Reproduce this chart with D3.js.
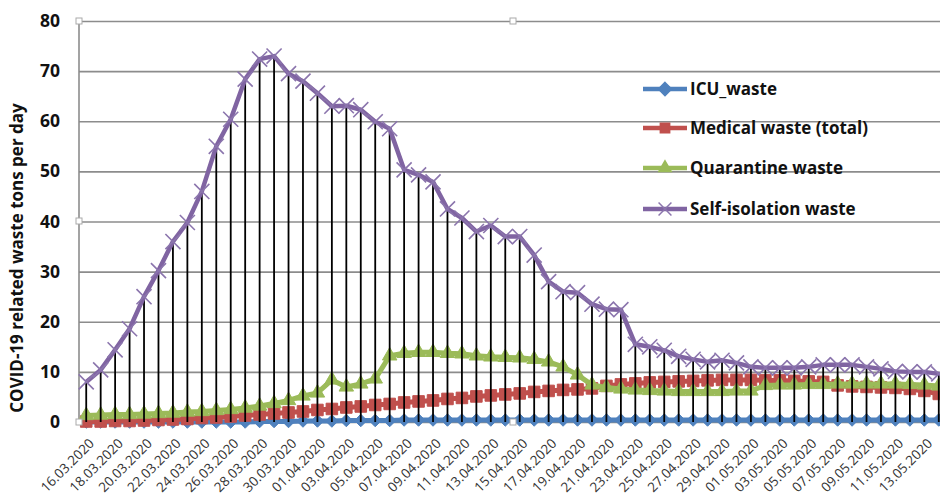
<!DOCTYPE html>
<html><head><meta charset="utf-8">
<script src="https://cdn.jsdelivr.net/npm/d3@7"></script>
<style>body{margin:0;background:#fff}svg{display:block}</style>
</head><body>
<svg id="c" width="940" height="497"></svg>
<script>
const dates = ["16.03.2020","17.03.2020","18.03.2020","19.03.2020","20.03.2020","21.03.2020","22.03.2020","23.03.2020","24.03.2020","25.03.2020",
"26.03.2020","27.03.2020","28.03.2020","29.03.2020","30.03.2020","31.03.2020","01.04.2020","02.04.2020","03.04.2020","04.04.2020",
"05.04.2020","06.04.2020","07.04.2020","08.04.2020","09.04.2020","10.04.2020","11.04.2020","12.04.2020","13.04.2020","14.04.2020",
"15.04.2020","16.04.2020","17.04.2020","18.04.2020","19.04.2020","20.04.2020","21.04.2020","22.04.2020","23.04.2020","24.04.2020",
"25.04.2020","26.04.2020","27.04.2020","28.04.2020","29.04.2020","30.04.2020","01.05.2020","02.05.2020","03.05.2020","04.05.2020",
"05.05.2020","06.05.2020","07.05.2020","08.05.2020","09.05.2020","10.05.2020","11.05.2020","12.05.2020","13.05.2020","14.05.2020"];

const icuWaste = [0,0,0,0,0,0,0,0,0,0, 0,0,0.1,0.1,0.1,0.2,0.2,0.2,0.3,0.3,
0.3,0.3,0.4,0.4,0.4,0.4,0.4,0.4,0.4,0.4, 0.4,0.4,0.4,0.4,0.4,0.4,0.4,0.4,0.4,0.4,
0.4,0.4,0.4,0.4,0.4,0.4,0.4,0.4,0.4,0.4, 0.4,0.4,0.4,0.4,0.4,0.4,0.4,0.4,0.4,0.4];

const medicalWaste = [0.1,0.1,0.2,0.2,0.3,0.4,0.5,0.6,0.8,0.9, 1.1,1.3,1.5,1.7,1.9,2.1,2.4,2.6,2.9,3.1,
3.4,3.6,3.9,4.1,4.3,4.6,4.8,5.1,5.3,5.5, 5.7,6.0,6.2,6.4,6.5,6.7,7.2,7.5,7.7,7.9,
8.0,8.1,8.2,8.3,8.4,8.4,8.4,8.3,8.3,8.2, 8.1,8.0,7.3,7.1,7.0,6.9,6.8,6.6,6.2,5.6];

const quarantineWaste = [1.3,1.4,1.5,1.5,1.6,1.7,1.8,2.0,2.1,2.3, 2.5,2.8,3.2,3.7,4.3,5.2,5.8,8.4,7.0,7.6,
8.6,13.2,13.7,13.9,13.9,13.7,13.6,13.2,13.0,12.9, 12.8,12.5,12.0,11.0,9.4,7.4,6.9,6.6,6.4,6.3,
6.2,6.1,6.1,6.1,6.1,6.2,6.2,7.3,7.4,7.4, 7.5,7.5,7.6,7.6,7.6,7.6,7.6,7.5,7.4,7.2];

const selfIsolationWaste = [8.0,10.4,14.4,18.6,25.0,30.2,36.0,39.8,46.0,55.0, 60.4,68.4,72.4,73.0,69.5,68.0,65.6,63.0,63.1,62.3,
59.9,58.5,50.3,49.3,47.9,42.5,40.7,38.0,39.2,37.0, 37.0,33.3,28.0,26.0,25.8,23.5,22.5,22.4,15.5,15.0,
14.3,13.1,12.5,12.0,12.3,11.8,11.0,10.8,10.8,10.8, 11.0,11.4,11.4,11.4,11.0,10.6,10.1,10.0,10.0,9.6];

const yTicks = [0,10,20,30,40,50,60,70,80];
const xTickLabels = dates.filter((d,i) => i % 2 === 0);

const seriesNames = ["ICU_waste","Medical waste (total)","Quarantine waste","Self-isolation waste"];
const seriesColors = ["#4F81BD","#C0504D","#9BBB59","#8064A2"];
const seriesMarkers = ["diamond","square","triangle","cross"];
const seriesValues = [icuWaste, medicalWaste, quarantineWaste, selfIsolationWaste];

(function(){
const svg = d3.select("#c");
const pL = 79, pT = 21, pB = 422, pR = 946;
const x = d3.scalePoint().domain(dates).range([pL, pR]).padding(0.5);
const y = d3.scaleLinear().domain([0, 80]).range([pB, pT]);

svg.append("g").attr("transform", `translate(${pL},0)`)
  .call(d3.axisLeft(y).tickValues(yTicks).tickSize(-(pR-pL)).tickFormat(""))
  .call(g => g.select(".domain").remove())
  .call(g => g.selectAll("line").attr("stroke", "#8c8c8c").attr("stroke-width", 1.6));
svg.append("line").attr("x1", pL).attr("x2", pL).attr("y1", pT).attr("y2", pB)
  .attr("stroke", "#8c8c8c").attr("stroke-width", 1.6);

svg.append("g").attr("transform", `translate(${pL},0)`)
  .call(d3.axisLeft(y).tickValues(yTicks).tickSize(0).tickPadding(19))
  .call(g => g.select(".domain").remove())
  .call(g => g.selectAll("text").attr("font-family", "Open Sans, sans-serif")
     .attr("font-weight", "bold").attr("font-size", 17.5).attr("fill", "#111"));

svg.append("g").attr("transform", `translate(0,${pB})`)
  .call(d3.axisBottom(x).tickValues(xTickLabels).tickSize(0).tickFormat(d => d))
  .call(g => g.select(".domain").remove())
  .call(g => g.selectAll("text")
     .attr("font-family", "Open Sans, sans-serif").attr("font-size", 13.5).attr("fill", "#333")
     .attr("text-anchor", "end").attr("dy", "0.35em").attr("y", 0)
     .attr("transform", "translate(5,19) rotate(-45)"));

svg.append("text").attr("transform", "translate(23,258) rotate(-90)")
  .attr("text-anchor", "middle").attr("font-family", "Open Sans, sans-serif")
  .attr("font-weight", "bold").attr("font-size", 17).attr("fill", "#111")
  .text("COVID-19 related waste tons per day");

const sym = {
  diamond: d3.symbol().type(d3.symbolDiamond2).size(100),
  square: d3.symbol().type(d3.symbolSquare2).size(170),
  triangle: d3.symbol().type(d3.symbolTriangle2).size(150),
  cross: d3.symbol().type(d3.symbolX).size(150)
};

function drawSeries(k) {
  const vals = seriesValues[k], col = seriesColors[k];
  const line = d3.line().x((d,i) => x(dates[i])).y(d => y(d));
  const g = svg.append("g");
  g.append("path").datum(vals).attr("d", line).attr("fill", "none")
    .attr("stroke", col).attr("stroke-width", k === 3 ? 4.5 : 5).attr("stroke-linejoin", "round");
  const m = g.selectAll("path.m").data(vals).join("path").attr("class", "m")
    .attr("transform", (d,i) => `translate(${x(dates[i])},${y(d)})`)
    .attr("d", sym[seriesMarkers[k]]());
  if (seriesMarkers[k] === "cross") m.attr("fill", "none").attr("stroke", "#8b75ad").attr("stroke-width", 1.6);
  else m.attr("fill", col).attr("stroke", col).attr("stroke-width", 1);
}
drawSeries(0); drawSeries(1); drawSeries(2);

svg.append("g").selectAll("line").data(dates).join("line")
  .attr("x1", d => x(d)).attr("x2", d => x(d)).attr("y1", y(0))
  .attr("y2", (d,i) => y(d3.max(seriesValues, s => s[i])))
  .attr("stroke", "#000").attr("stroke-width", 1.8);

drawSeries(3);

const handles = [[pL, pT], [513, pT], [pL, 221], [pL, pB], [513, pB]];
svg.append("g").selectAll("rect").data(handles).join("rect")
  .attr("x", d => d[0]-3).attr("y", d => d[1]-3).attr("width", 6).attr("height", 6)
  .attr("fill", "#fff").attr("stroke", "#aaa").attr("stroke-width", 1);

const lg = svg.append("g").selectAll("g").data(seriesNames).join("g")
  .attr("transform", (d,i) => `translate(643,${[89,128,168,209][i]})`);
lg.append("line").attr("x1", 0).attr("x2", 44).attr("stroke", (d,i) => seriesColors[i]).attr("stroke-width", 4.5);
lg.append("path").attr("transform", "translate(22,0)")
  .attr("d", (d,i) => d3.symbol().type([d3.symbolDiamond2, d3.symbolSquare2, d3.symbolTriangle2, d3.symbolX][i]).size(110)())
  .attr("fill", (d,i) => seriesMarkers[i] === "cross" ? "none" : seriesColors[i])
  .attr("stroke", (d,i) => seriesMarkers[i] === "cross" ? "#8b75ad" : seriesColors[i]).attr("stroke-width", 1.5);
lg.append("text").attr("x", 47).attr("dy", "0.35em").attr("font-family", "Open Sans, sans-serif")
  .attr("font-weight", "bold").attr("font-size", 17).attr("fill", "#111").text(d => d);
})();
</script>
</body></html>
